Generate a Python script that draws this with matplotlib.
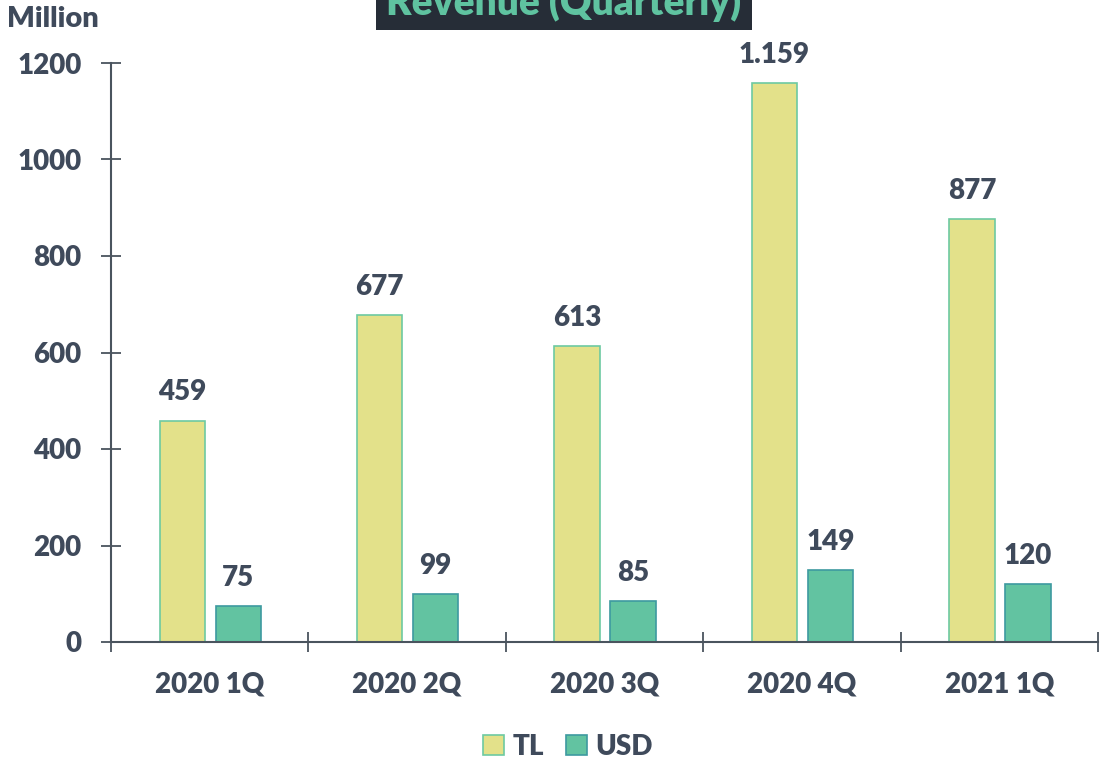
import matplotlib.pyplot as plt
import numpy as np
from matplotlib.patches import Rectangle

quarters = ["2020 1Q", "2020 2Q", "2020 3Q", "2020 4Q", "2021 1Q"]
tl_values = [459, 677, 613, 1159, 877]
usd_values = [75, 99, 85, 149, 120]
y_ticks = [0, 200, 400, 600, 800, 1000, 1200]

TEXT = "#3f4a5b"
AXIS = "#4a545e"
TL_FILL, TL_EDGE = "#e3e18a", "#6dcaa2"
USD_FILL, USD_EDGE = "#62c3a1", "#3d9aa0"
WEIGHT = "heavy"

plt.rcParams["font.family"] = ["Lato", "DejaVu Sans"]
plt.rcParams["font.weight"] = WEIGHT

fig = plt.figure(figsize=(11.06, 7.61), dpi=100)
ax = fig.add_axes([111 / 1106, 1 - 642 / 761, (1098 - 111) / 1106, (642 - 63) / 761])

x = np.arange(len(quarters)) + 0.5
width = 0.23
tl_bars = ax.bar(x - 0.139, tl_values, width, color=TL_FILL, edgecolor=TL_EDGE, linewidth=1.2, label="TL")
usd_bars = ax.bar(x + 0.145, usd_values, width, color=USD_FILL, edgecolor=USD_EDGE, linewidth=1.2, label="USD")


def fmt(v):
    return f"{v:,}".replace(",", ".")


for bars, vals in ((tl_bars, tl_values), (usd_bars, usd_values)):
    for b, v in zip(bars, vals):
        ax.annotate(fmt(v), (b.get_x() + b.get_width() / 2, v), xytext=(0, 14.5),
                    textcoords="offset points", ha="center", va="baseline",
                    fontsize=20, fontweight=WEIGHT, color=TEXT)

ax.set_xlim(0, len(quarters))
ax.set_ylim(0, 1200)
ax.set_yticks(y_ticks)
ax.set_yticklabels([str(t) for t in y_ticks])
ax.set_xticks(np.arange(len(quarters) + 1))
ax.set_xticklabels([])
ax.set_xticks(x, minor=True)
ax.set_xticklabels(quarters, minor=True)
ax.tick_params(axis="both", which="major", direction="inout", length=14.4, width=1.3, color=AXIS,
               labelsize=20, labelcolor=TEXT, pad=14)
ax.tick_params(axis="x", which="minor", length=0, labelsize=20, labelcolor=TEXT, pad=21)
for lbl in ax.get_yticklabels() + ax.get_xticklabels(minor=True):
    lbl.set_fontweight(WEIGHT)

for side in ("top", "right"):
    ax.spines[side].set_visible(False)
for side in ("left", "bottom"):
    ax.spines[side].set_color(AXIS)
    ax.spines[side].set_linewidth(1.5)

fig.text(7 / 1106, 1 - 6 / 761, "Million", ha="left", va="top", fontsize=21,
         fontweight=WEIGHT, color=TEXT)

# title box, partly cut off at the top edge as in the source
fig.patches.append(Rectangle((376 / 1106, 1 - 30 / 761), (752 - 376) / 1106, 30 / 761 + 0.01,
                             transform=fig.transFigure, facecolor="#262d37", edgecolor="none"))
fig.text(564 / 1106, 1 - 15 / 761, "Revenue (Quarterly)", ha="center", va="baseline",
         fontsize=28, fontweight=WEIGHT, color="#5fc3a0")

fig.legend(handles=[tl_bars, usd_bars], loc="center", bbox_to_anchor=(568 / 1106, 1 - 747 / 761),
           ncol=2, frameon=False, handlelength=0.75, handleheight=0.75,
           handletextpad=0.3, columnspacing=0.8, labelcolor=TEXT,
           prop={"weight": WEIGHT, "size": 20})

fig.savefig("out.png", dpi=100)
